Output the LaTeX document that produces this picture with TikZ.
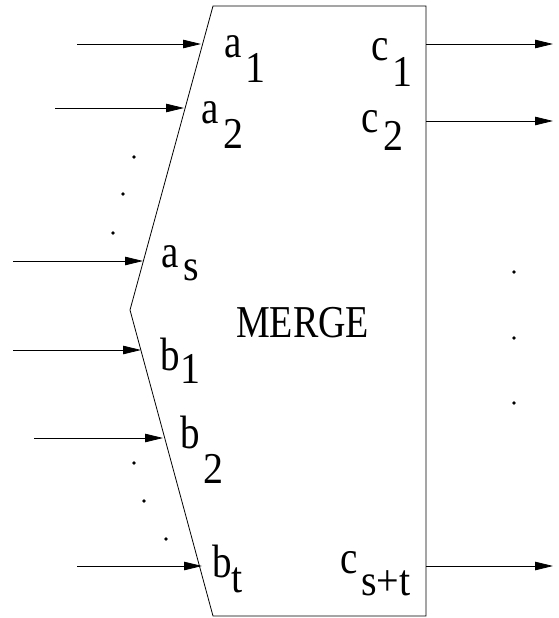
\documentclass[tikz,border=0pt]{standalone}
\usepackage{fontspec}
\setmainfont{Liberation Serif}
\usetikzlibrary{arrows.meta}
\newcommand{\tallbox}[2][1.2]{\scalebox{1}[#1]{#2}}
\tikzset{
  flow/.style={line width=0.8pt,-{Triangle[length=18pt,width=8.5pt]}},
  sym/.style={inner sep=0pt,anchor=base west,font=\fontsize{39}{39}\selectfont},
  idx/.style={inner sep=0pt,anchor=base west,font=\fontsize{40}{40}\selectfont},
  dotmark/.style={circle,fill=black,inner sep=0pt,minimum size=3.6pt}
}

\begin{document}
\begin{tikzpicture}[x=1pt,y=-1pt]
\path[use as bounding box] (0,0) rectangle (558,618);

% merge box
\coordinate (boxNW) at (213,6);
\coordinate (boxNE) at (426,6);
\coordinate (boxSE) at (426,616);
\coordinate (boxSW) at (213,616);
\coordinate (boxW) at (130,310);
\draw[line width=0.8pt] (boxNW) -- (boxNE) -- (boxSE) -- (boxSW) -- (boxW) -- cycle;
\node[sym,font=\fontsize{38}{38}\selectfont] (merge) at (236,337) {\tallbox{MERGE}};

% inputs
\coordinate (srcA1) at (77,44);   \coordinate (inA1) at (201,44);
\coordinate (srcA2) at (55,108);  \coordinate (inA2) at (184,108);
\coordinate (srcAs) at (13,261);  \coordinate (inAs) at (143,261);
\coordinate (srcB1) at (13,350);  \coordinate (inB1) at (141,350);
\coordinate (srcB2) at (34,438);  \coordinate (inB2) at (163,438);
\coordinate (srcBt) at (77,566);  \coordinate (inBt) at (202,566);
\draw[flow] (srcA1) -- (inA1);
\draw[flow] (srcA2) -- (inA2);
\draw[flow] (srcAs) -- (inAs);
\draw[flow] (srcB1) -- (inB1);
\draw[flow] (srcB2) -- (inB2);
\draw[flow] (srcBt) -- (inBt);

% outputs
\coordinate (outC1) at (426,44);  \coordinate (dstC1) at (553,44);
\coordinate (outC2) at (426,121); \coordinate (dstC2) at (553,121);
\coordinate (outCst) at (426,566); \coordinate (dstCst) at (553,566);
\draw[flow] (outC1) -- (dstC1);
\draw[flow] (outC2) -- (dstC2);
\draw[flow] (outCst) -- (dstCst);

% labels
\node[sym] (labA1) at (224,57) {\tallbox{a}};
\node[idx] (subA1) at (245,82) {\tallbox[1.1]{1}};
\node[sym] (labA2) at (201,123) {\tallbox{a}};
\node[idx] (subA2) at (223,148) {\tallbox[1.1]{2}};
\node[sym] (labAs) at (161,267) {\tallbox{a}};
\node[idx] (subAs) at (183,280) {\tallbox[1.1]{s}};
\node[sym] (labB1) at (160.5,370) {\tallbox{b}};
\node[idx] (subB1) at (180,383) {\tallbox[1.1]{1}};
\node[sym] (labB2) at (180.5,448) {\tallbox{b}};
\node[idx] (subB2) at (203,483) {\tallbox[1.1]{2}};
\node[sym] (labBt) at (212.5,577) {\tallbox{b}};
\node[idx] (subBt) at (231.5,592) {\tallbox[1.1]{t}};
\node[sym] (labC1) at (371,60) {\tallbox{c}};
\node[idx] (subC1) at (392,86) {\tallbox[1.1]{1}};
\node[sym] (labC2) at (361,132) {\tallbox{c}};
\node[idx] (subC2) at (383,150) {\tallbox[1.1]{2}};
\node[sym] (labCst) at (340,573) {\tallbox{c}};
\node[idx] (subCst) at (361,595) {\tallbox[1.1]{s+t}};

% ellipsis dots
\foreach \px/\py [count=\i] in {134/157,123/194,113/233,134/463,144/501,166/539,514/272,514/338,514/403}
  \node[dotmark] (gap\i) at (\px,\py) {};
\end{tikzpicture}
\end{document}
